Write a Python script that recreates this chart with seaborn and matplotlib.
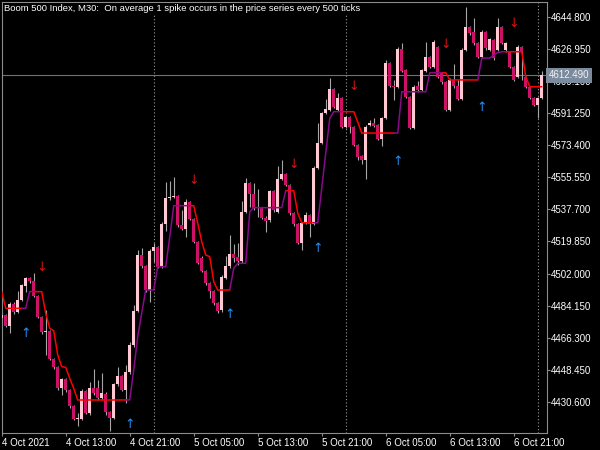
import numpy as np
import pandas as pd
import matplotlib
matplotlib.use("Agg")
import matplotlib.pyplot as plt
import matplotlib.transforms as mtransforms
import seaborn as sns

# ---------------- data (Boom 500 Index, M30) ----------------
time_labels = ["4 Oct 2021", "4 Oct 13:00", "4 Oct 21:00", "5 Oct 05:00", "5 Oct 13:00",
               "5 Oct 21:00", "6 Oct 05:00", "6 Oct 13:00", "6 Oct 21:00"]
time_label_bars = [0, 16, 32, 48, 64, 80, 96, 112, 128]
day_separator_bars = [38, 86, 134]

price_ticks = [4430.600, 4448.450, 4466.300, 4484.150, 4502.000, 4519.850, 4537.700,
               4555.550, 4573.400, 4591.250, 4609.100, 4626.950, 4644.800]

opens = [4477.22, 4478.89, 4472.76, 4485.02, 4480.56, 4487.25, 4495.05, 4499.51, 4497.84, 4489.48,
         4477.78, 4469.42, 4469.97, 4454.37, 4449.91, 4438.21, 4443.22, 4437.09, 4428.18, 4420.93,
         4420.93, 4436.54, 4424.28, 4438.21, 4438.21, 4432.63, 4434.86, 4424.83, 4421.49, 4440.44,
         4444.90, 4437.09, 4447.12, 4462.17, 4481.12, 4512.33, 4506.20, 4492.82, 4514.56, 4516.79,
         4505.64, 4529.60, 4544.09, 4544.65, 4545.21, 4529.05, 4526.82, 4541.87, 4532.39, 4519.57,
         4510.66, 4503.41, 4496.72, 4492.27, 4485.58, 4481.68, 4499.51, 4506.20, 4512.89, 4511.21,
         4508.98, 4536.29, 4552.45, 4546.32, 4538.52, 4538.52, 4532.95, 4531.83, 4548.00, 4536.29,
         4554.68, 4557.47, 4551.34, 4535.74, 4529.60, 4519.02, 4530.16, 4534.62, 4529.60, 4560.81,
         4574.75, 4591.47, 4593.14, 4604.84, 4593.14, 4599.82, 4583.66, 4589.24, 4583.66, 4573.63,
         4567.50, 4565.27, 4584.78, 4585.89, 4584.78, 4576.98, 4588.68, 4619.33, 4606.51, 4605.95,
         4627.13, 4615.43, 4600.38, 4583.11, 4606.51, 4604.28, 4614.87, 4622.67, 4617.10, 4628.25,
         4613.76, 4608.74, 4593.14, 4609.86, 4606.51, 4599.27, 4626.57, 4639.39, 4636.61, 4630.48,
         4622.67, 4636.61, 4626.57, 4632.15, 4626.57, 4639.39, 4626.57, 4625.46, 4617.10, 4611.53,
         4628.25, 4611.53, 4605.95, 4599.82, 4595.92, 4599.82]
closes = [4478.89, 4472.76, 4485.02, 4480.56, 4487.25, 4495.61, 4499.51, 4497.84, 4489.48, 4477.78,
          4469.42, 4469.97, 4454.37, 4449.91, 4438.21, 4443.22, 4437.09, 4428.18, 4420.93, 4421.49,
          4436.54, 4424.28, 4438.21, 4435.42, 4432.63, 4435.42, 4424.83, 4421.49, 4440.44, 4444.90,
          4437.09, 4447.12, 4462.17, 4481.12, 4512.33, 4506.20, 4492.82, 4514.56, 4516.79, 4505.64,
          4529.60, 4544.09, 4544.65, 4545.21, 4529.05, 4526.82, 4541.87, 4532.39, 4519.57, 4507.87,
          4503.41, 4496.72, 4492.27, 4485.58, 4481.12, 4500.07, 4506.20, 4512.89, 4510.66, 4508.98,
          4536.29, 4552.45, 4546.32, 4538.52, 4539.08, 4532.95, 4531.28, 4548.00, 4537.41, 4554.68,
          4557.47, 4551.34, 4535.74, 4529.60, 4519.02, 4530.16, 4534.62, 4529.60, 4560.81, 4574.75,
          4591.47, 4593.69, 4604.84, 4594.81, 4599.82, 4583.66, 4589.24, 4583.66, 4573.63, 4566.94,
          4565.27, 4583.66, 4585.89, 4584.22, 4576.98, 4588.68, 4619.33, 4606.51, 4606.23, 4627.13,
          4614.87, 4600.38, 4583.11, 4605.95, 4604.28, 4615.43, 4622.67, 4617.10, 4631.03, 4611.53,
          4608.74, 4593.14, 4609.86, 4606.51, 4599.27, 4626.57, 4639.39, 4636.05, 4630.48, 4622.67,
          4636.61, 4627.69, 4632.71, 4622.12, 4639.39, 4630.48, 4630.48, 4617.10, 4609.86, 4628.25,
          4625.46, 4605.95, 4599.82, 4595.92, 4599.82, 4612.49]
highs = [4480.56, 4479.45, 4486.14, 4486.14, 4492.27, 4496.17, 4500.07, 4500.07, 4502.30, 4490.04,
         4478.33, 4481.68, 4470.53, 4454.93, 4450.47, 4443.78, 4443.78, 4437.65, 4428.73, 4424.28,
         4437.65, 4437.09, 4441.55, 4448.80, 4442.67, 4446.57, 4435.98, 4425.40, 4440.99, 4449.91,
         4445.45, 4451.03, 4463.84, 4484.46, 4515.11, 4516.23, 4506.76, 4515.67, 4519.02, 4517.34,
         4530.72, 4553.01, 4553.57, 4555.80, 4545.77, 4537.41, 4543.54, 4542.42, 4532.95, 4520.13,
         4511.77, 4503.97, 4497.28, 4492.82, 4486.14, 4501.18, 4511.77, 4523.47, 4518.46, 4519.02,
         4542.42, 4555.24, 4553.01, 4552.45, 4549.11, 4539.08, 4534.06, 4548.55, 4548.55, 4561.93,
         4565.27, 4558.03, 4551.90, 4536.29, 4530.16, 4530.72, 4536.29, 4535.18, 4561.93, 4585.89,
         4592.02, 4599.27, 4610.97, 4605.40, 4602.61, 4600.38, 4589.79, 4589.79, 4584.22, 4574.19,
         4568.06, 4584.78, 4587.56, 4588.68, 4585.33, 4589.24, 4621.00, 4619.89, 4609.86, 4628.25,
         4630.48, 4615.99, 4600.94, 4607.07, 4609.30, 4615.99, 4631.03, 4623.23, 4632.15, 4628.80,
         4614.31, 4609.30, 4610.97, 4618.77, 4609.86, 4627.69, 4650.54, 4639.95, 4644.41, 4631.03,
         4637.72, 4637.16, 4633.26, 4632.71, 4644.41, 4639.95, 4631.03, 4626.02, 4617.66, 4629.36,
         4628.80, 4612.09, 4606.51, 4600.38, 4600.38, 4614.87]
lows = [4476.10, 4472.20, 4468.86, 4479.45, 4480.01, 4486.69, 4491.71, 4496.72, 4488.92, 4477.22,
        4468.30, 4456.60, 4453.81, 4448.80, 4437.09, 4434.31, 4435.98, 4427.06, 4420.37, 4417.03,
        4420.37, 4423.72, 4423.16, 4434.31, 4431.52, 4431.52, 4423.16, 4414.24, 4420.93, 4439.32,
        4436.54, 4429.85, 4446.01, 4461.06, 4480.56, 4505.08, 4491.71, 4486.14, 4508.43, 4505.08,
        4505.08, 4525.70, 4542.98, 4544.09, 4527.93, 4526.26, 4522.36, 4531.83, 4519.02, 4507.31,
        4502.85, 4495.61, 4488.36, 4484.46, 4480.01, 4480.56, 4498.95, 4505.08, 4508.43, 4506.76,
        4507.87, 4535.74, 4539.08, 4537.41, 4533.51, 4532.39, 4525.15, 4530.72, 4536.29, 4535.74,
        4554.13, 4550.78, 4534.62, 4528.49, 4518.46, 4515.11, 4529.60, 4522.36, 4529.05, 4560.26,
        4574.19, 4590.91, 4592.58, 4594.25, 4592.58, 4583.11, 4583.11, 4580.32, 4573.07, 4565.27,
        4563.04, 4554.68, 4584.22, 4583.66, 4576.42, 4573.07, 4588.12, 4605.95, 4598.71, 4605.40,
        4614.31, 4599.82, 4582.55, 4582.55, 4603.17, 4603.73, 4614.31, 4616.54, 4616.54, 4610.97,
        4607.63, 4592.58, 4592.58, 4605.40, 4598.71, 4598.71, 4626.02, 4634.93, 4629.36, 4622.12,
        4622.12, 4626.57, 4626.02, 4621.00, 4626.02, 4629.92, 4625.46, 4616.54, 4609.30, 4610.97,
        4609.86, 4605.40, 4599.27, 4595.37, 4588.68, 4599.27]

trail = [4491.9, 4482.6, 4482.6, 4482.6, 4482.6, 4482.6, 4482.6, 4491.9, 4491.9, 4491.9,
         4491.9, 4479.8, 4471.5, 4470.1, 4456.6, 4450.1, 4449.7, 4443.6, 4438.0, 4431.5,
         4431.5, 4431.5, 4431.5, 4431.5, 4431.5, 4431.5, 4431.5, 4431.5, 4431.5, 4431.5,
         4431.5, 4431.5, 4431.5, 4448.2, 4466.8, 4480.0, 4492.8, 4492.8, 4492.8, 4505.8,
         4505.8, 4505.8, 4522.5, 4539.8, 4539.8, 4539.8, 4539.8, 4539.8, 4539.8, 4530.0,
         4519.7, 4512.3, 4511.4, 4497.4, 4492.8, 4492.8, 4492.8, 4492.8, 4504.9, 4507.7,
         4507.7, 4507.7, 4536.4, 4538.7, 4538.7, 4538.7, 4538.7, 4538.7, 4538.7, 4538.7,
         4538.7, 4548.2, 4548.2, 4548.2, 4535.6, 4530.3, 4530.3, 4530.3, 4530.3, 4530.3,
         4549.7, 4569.2, 4588.5, 4592.2, 4592.2, 4592.2, 4592.2, 4592.2, 4592.2, 4586.4,
         4580.3, 4580.3, 4580.3, 4580.3, 4580.3, 4580.3, 4580.3, 4580.3, 4580.3, 4580.3,
         4603.3, 4603.3, 4603.3, 4603.3, 4603.3, 4603.3, 4603.3, 4613.9, 4613.9, 4613.9,
         4613.9, 4613.9, 4609.9, 4609.9, 4609.9, 4609.9, 4609.9, 4609.9, 4609.9, 4609.9,
         4622.1, 4622.1, 4622.1, 4623.8, 4625.1, 4625.6, 4625.6, 4625.6, 4625.6, 4625.6,
         4625.6, 4611.7, 4606.1, 4606.1, 4606.1, 4606.1]

trend = ("dddddd" + "uuu" + "ddddddddddddddddddddddd" + "uuuuuuuuuuuuuuuu" + "dddddddddd"
         + "uuuuuuuuuuuuuu" + "ddddddd" + "uuuuuuu" + "ddddddddddddd" + "uuuuuuuuuuuu"
         + "ddddddddd" + "uuuuuuu" + "ddddddddd")

down_arrow_bars = [10, 48, 73, 88, 111, 128]
down_arrow_prices = [4505.6, 4554.1, 4562.5, 4606.5, 4629.4, 4641.6]
up_arrow_bars = [6, 32, 57, 79, 99, 120]
up_arrow_prices = [4468.3, 4418.1, 4478.9, 4515.7, 4564.7, 4594.3]

title = "Boom 500 Index, M30:  On average 1 spike occurs in the price series every 500 ticks"

# ---------------- style ----------------
sns.set_theme(style="dark")
plt.rcParams["font.family"] = ["Liberation Sans", "DejaVu Sans"]

BG = "#000000"
FG = "#ffffff"
FRAME = "#8c8c8c"
BULL = "#ffc8d2"
BEAR = "#cc1166"
WICK = "#a6a6a6"

fig = plt.figure(figsize=(6, 4.5), dpi=100, facecolor=BG)
W, H = 600, 450
ax = fig.add_axes([1.7 / W, 1 - 433 / H, (547 - 1.7) / W, (433 - 1.7) / H])
ax.set_facecolor(BG)

n = len(opens)
x = np.arange(n)
o = np.array(opens); c = np.array(closes); h = np.array(highs); l = np.array(lows)

# day separators & bid line
for b in day_separator_bars:
    ax.axvline(b, color="#9a9a9a", lw=0.8, ls=(0, (1, 2)), zorder=1)
ax.axhline(closes[-1], color="#6c737c", lw=0.8, zorder=1)

# wicks
ax.vlines(x, l, h, color=WICK, lw=0.8, zorder=2)
# bodies
bull = c >= o
colors = np.where(bull, BULL, BEAR)
bottoms = np.minimum(o, c)
heights = np.maximum(np.abs(c - o), 0.45)
ax.bar(x, heights, bottom=bottoms, width=0.72, color=colors, edgecolor="none", zorder=3)

# trailing trend line (colored by trend) via seaborn
rows = []
seg = 0
start = 0
for i in range(1, n + 1):
    if i == n or trend[i] != trend[start]:
        lo = max(start - 1, 0)
        for k in range(lo, i):
            rows.append({"bar": k, "value": trail[k], "trend": trend[start], "seg": seg})
        seg += 1
        start = i
df_line = pd.DataFrame(rows)
sns.lineplot(data=df_line, x="bar", y="value", hue="trend", units="seg", estimator=None,
             palette={"d": "#ff0000", "u": "#8a0a8a"}, lw=1.1, legend=False, ax=ax,
             zorder=4, sort=False)

# arrows
for b, p in zip(down_arrow_bars, down_arrow_prices):
    ax.text(b, p, "\u2193", color="#e01010", ha="center", va="center", fontsize=9,
            family="DejaVu Sans", zorder=5)
for b, p in zip(up_arrow_bars, up_arrow_prices):
    ax.text(b, p, "\u2191", color="#2a8cf0", ha="center", va="center", fontsize=9,
            family="DejaVu Sans", zorder=5)

# axes limits
ax.set_xlim(0, 136.3)
ax.set_ylim(4413.1, 4653.5)

# frame
for s in ax.spines.values():
    s.set_visible(True)
    s.set_color(FRAME)
    s.set_linewidth(0.8)

ax.grid(False)
ax.set_xlabel("")
ax.set_ylabel("")

# y axis on right
ax.yaxis.tick_right()
ax.set_yticks(price_ticks)
ax.set_yticklabels([f"{v:.3f}" for v in price_ticks])
ax.tick_params(axis="y", which="both", right=True, left=False, length=2.2, width=0.8,
               color=FRAME, labelcolor=FG, labelsize=7, pad=0.8)

# x axis
ax.set_xticks(time_label_bars)
ax.set_xticklabels(time_labels, ha="left")
ax.tick_params(axis="x", which="both", bottom=True, length=2.2, width=0.8,
               color=FRAME, labelcolor=FG, labelsize=7, pad=1.5)

# current price label
trans = mtransforms.blended_transform_factory(ax.transAxes, ax.transData)
ax.text(1.003, closes[-1], f"{closes[-1]:.3f}", transform=trans, ha="left", va="center",
        color="#f2f2f2", fontsize=7, clip_on=False, zorder=20,
        bbox=dict(boxstyle="square,pad=0.25", fc="#7b8a9c", ec="none"))

# title
fig.text(4 / W, 1 - 8.5 / H, title, color=FG, fontsize=6.8, ha="left", va="center",
         bbox=dict(boxstyle="square,pad=0.1", fc=BG, ec="none"), zorder=30)

fig.savefig("out.png", dpi=100, facecolor=BG)
